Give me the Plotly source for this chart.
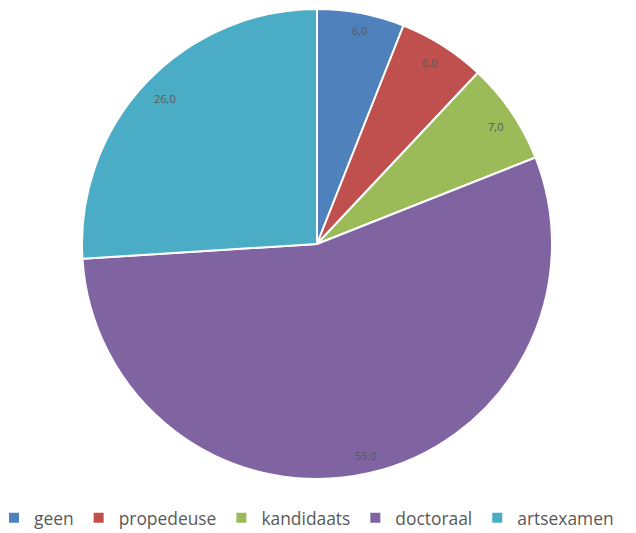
import math
import plotly.graph_objects as go

categories = ["geen", "propedeuse", "kandidaats", "doctoraal", "artsexamen"]
values = [6.0, 6.0, 7.0, 55.0, 26.0]
colors = ["#4F81BD", "#C0504D", "#9BBB59", "#8064A2", "#4BACC6"]

# the page body adds an 8px margin, so the figure is drawn 8px smaller
OFF = 8
W, H = 636 - OFF, 533 - OFF
MB = 36                      # bottom margin reserved for the legend
Hp = H - MB                  # plot-area height
cx_px, cy_px, R = 317 - OFF, 244 - OFF, 235

fig = go.Figure(go.Pie(
    labels=categories,
    values=values,
    sort=False,
    direction="clockwise",
    rotation=0,
    marker=dict(colors=colors, line=dict(color="white", width=2)),
    textinfo="none",
    hoverinfo="label+value",
    domain=dict(x=[(cx_px - R) / W, (cx_px + R) / W],
                y=[1 - (cy_px + R) / Hp, 1 - (cy_px - R) / Hp]),
))

total = sum(values)
cum = 0.0
for v in values:
    mid = (cum + v / 2) / total * 2 * math.pi
    cum += v
    r = 0.965 * R
    x = (cx_px + r * math.sin(mid)) / W
    y = 1 - (cy_px - r * math.cos(mid)) / Hp
    fig.add_annotation(x=x, y=y, xref="paper", yref="paper",
                       text=f"{v:.1f}".replace(".", ","), showarrow=False,
                       font=dict(size=11, color="#595959", family="Open Sans"))

fig.update_layout(
    width=W, height=H,
    margin=dict(l=0, r=0, t=0, b=MB, autoexpand=False),
    paper_bgcolor="white",
    showlegend=True,
    legend=dict(orientation="h", x=-14 / W, xanchor="left",
                y=-3 / Hp, yanchor="top",
                font=dict(size=17.4, color="#595959", family="Open Sans"),
                itemwidth=30, traceorder="normal"),
)
fig.write_html("out.html")
